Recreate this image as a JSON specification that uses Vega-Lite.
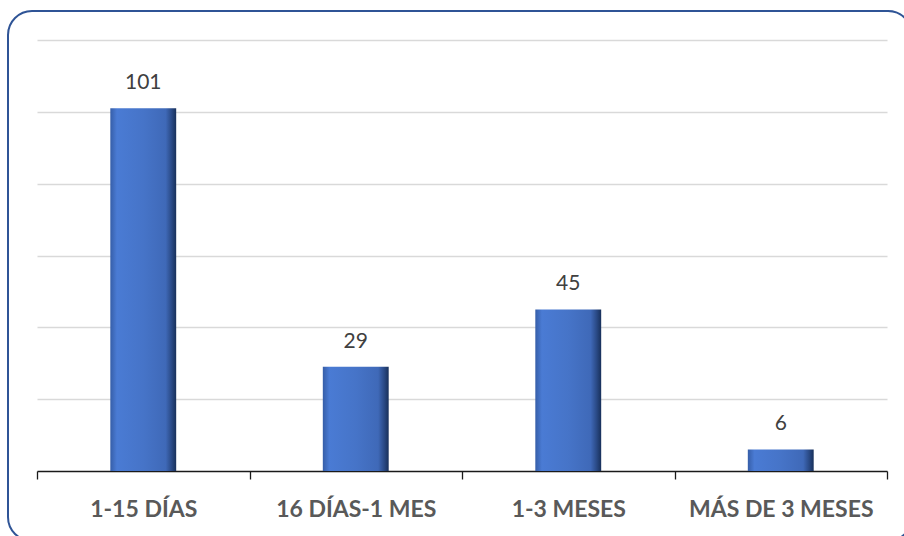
{
  "$schema": "https://vega.github.io/schema/vega-lite/v6.json",
  "width": 904,
  "height": 530,
  "autosize": {"type": "none"},
  "padding": {"left": 8, "top": 11, "right": 0, "bottom": 0},
  "background": "white",
  "config": {
    "view": {"stroke": "#2F5496", "strokeWidth": 2, "cornerRadius": 24},
    "font": "Lato"
  },
  "data": {
    "values": [
      {"periodo": "1-15 DÍAS", "casos": 101},
      {"periodo": "16 DÍAS-1 MES", "casos": 29},
      {"periodo": "1-3 MESES", "casos": 45},
      {"periodo": "MÁS DE 3 MESES", "casos": 6}
    ]
  },
  "encoding": {
    "x": {
      "field": "periodo",
      "type": "nominal",
      "sort": null,
      "scale": {"range": [29, 879], "paddingInner": 0, "paddingOuter": 0},
      "axis": {
        "title": null,
        "offset": -70,
        "labelAngle": 0,
        "labelFont": "Lato",
        "labelFontSize": 23,
        "labelFontWeight": "bold",
        "labelColor": "#595959",
        "labelPadding": 19,
        "labelLimit": 0,
        "tickBand": "extent",
        "tickSize": 8,
        "tickColor": "#1a1a1a",
        "tickWidth": 1.3,
        "domainColor": "#1a1a1a",
        "domainWidth": 1.3,
        "grid": false
      }
    },
    "y": {
      "field": "casos",
      "type": "quantitative",
      "scale": {"domain": [0, 120], "range": [460, 29], "nice": false, "zero": true},
      "axis": {
        "title": null,
        "labels": false,
        "ticks": false,
        "domain": false,
        "grid": true,
        "values": [20, 40, 60, 80, 100, 120],
        "gridColor": "#d9d9d9",
        "gridWidth": 1.3
      }
    }
  },
  "layer": [
    {
      "mark": {
        "type": "bar",
        "width": {"band": 0.31},
        "color": {
          "gradient": "linear",
          "x1": 0, "y1": 0, "x2": 1, "y2": 0,
          "stops": [
            {"offset": 0, "color": "#365ea8"},
            {"offset": 0.1, "color": "#4a7bd4"},
            {"offset": 0.5, "color": "#4674c8"},
            {"offset": 0.84, "color": "#3f69b8"},
            {"offset": 0.93, "color": "#2a4a86"},
            {"offset": 1, "color": "#18305a"}
          ]
        }
      }
    },
    {
      "mark": {
        "type": "text",
        "baseline": "alphabetic",
        "dy": -19,
        "fontSize": 21,
        "font": "Lato",
        "color": "#404040"
      },
      "encoding": {"text": {"field": "casos", "type": "quantitative"}}
    }
  ]
}
